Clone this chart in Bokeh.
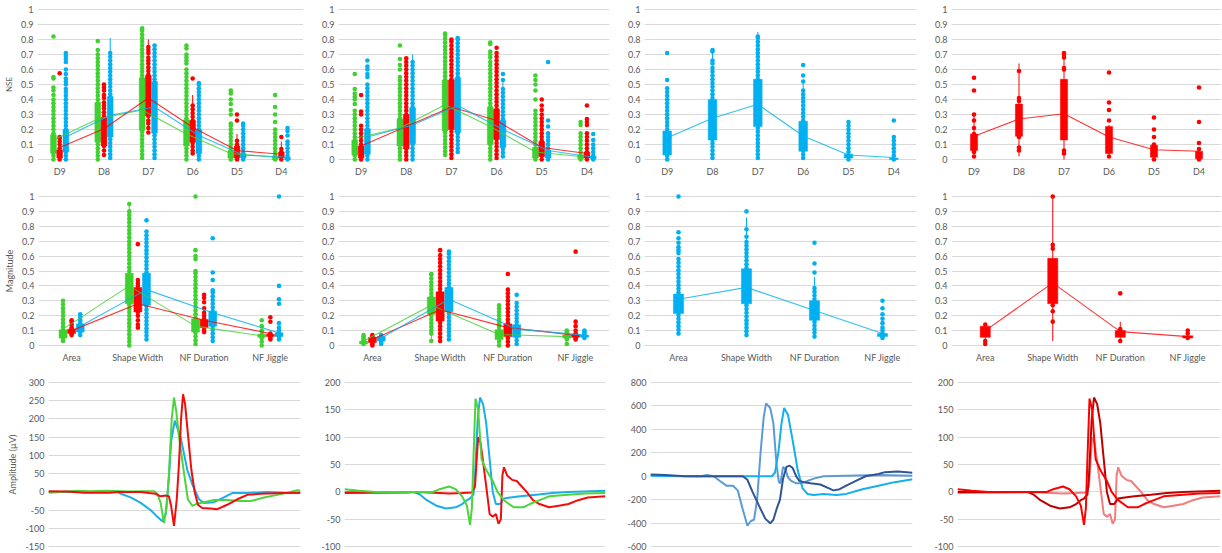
from bokeh.plotting import figure
from bokeh.layouts import column, row
from bokeh.models import Range1d, FixedTicker, NumeralTickFormatter
from bokeh.embed import file_html
from bokeh.resources import INLINE

FONT = "Lato"
TXT = "#595959"
GRID = "#D9D9D9"
GREEN = "#3ED12F"
RED = "#FF0000"
BLUE = "#00B0F0"

NSE_CATS = ["D9", "D8", "D7", "D6", "D5", "D4"]
FEAT_CATS = ["Area", "Shape Width", "NF Duration", "NF Jiggle"]
UNIT_TICKS = [0, 0.1, 0.2, 0.3, 0.4, 0.5, 0.6, 0.7, 0.8, 0.9, 1]
W1_TICKS = [-150, -100, -50, 0, 50, 100, 150, 200, 250, 300]
W2_TICKS = [-100, -50, 0, 50, 100, 150, 200]
W3_TICKS = [-600, -400, -200, 0, 200, 400, 600, 800]

# box stats per category: (q1, q3, whisker_low, whisker_high, mean)
R1A_G_BOX = [(0.04, 0.165, 0, 0.35, 0.13), (0.115, 0.38, 0, 0.73, 0.27), (0.195, 0.545, 0.01, 0.88, 0.33),
             (0.09, 0.265, 0, 0.52, 0.17), (0.01, 0.06, 0, 0.13, 0.04), (0.0, 0.02, 0, 0.05, 0.015)]
R1A_R_BOX = [(0.01, 0.065, 0, 0.14, 0.08), (0.09, 0.28, 0.03, 0.5, 0.205), (0.29, 0.56, 0.18, 0.8, 0.41),
             (0.115, 0.26, 0.04, 0.43, 0.215), (0.01, 0.09, 0, 0.17, 0.06), (0.01, 0.05, 0, 0.12, 0.035)]
R1A_B_BOX = [(0.05, 0.2, 0, 0.47, 0.15), (0.15, 0.42, 0.01, 0.81, 0.295), (0.175, 0.52, 0.01, 0.76, 0.35),
             (0.04, 0.2, 0, 0.51, 0.16), (0.01, 0.04, 0, 0.1, 0.03), (0.0, 0.015, 0, 0.04, 0.015)]

R1B_G_BOX = [(0.03, 0.13, 0, 0.28, 0.14), (0.09, 0.27, 0, 0.54, 0.21), (0.19, 0.53, 0.03, 0.84, 0.365),
             (0.1, 0.35, 0, 0.71, 0.22), (0.01, 0.08, 0, 0.18, 0.05), (0.005, 0.03, 0, 0.07, 0.02)]
R1B_R_BOX = [(0.01, 0.09, 0, 0.2, 0.09), (0.07, 0.3, 0, 0.64, 0.22), (0.2, 0.53, 0.01, 0.8, 0.35),
             (0.135, 0.335, 0.01, 0.66, 0.26), (0.02, 0.12, 0, 0.26, 0.08), (0.01, 0.05, 0, 0.12, 0.04)]
R1B_B_BOX = [(0.035, 0.205, 0, 0.46, 0.15), (0.105, 0.345, 0, 0.7, 0.23), (0.18, 0.545, 0.05, 0.81, 0.36),
             (0.08, 0.26, 0.02, 0.52, 0.2), (0.01, 0.06, 0, 0.12, 0.06), (0.005, 0.02, 0, 0.05, 0.015)]

R1C_B_BOX = [(0.03, 0.19, 0, 0.47, 0.145), (0.13, 0.4, 0.01, 0.73, 0.275), (0.22, 0.535, 0.01, 0.85, 0.368),
             (0.055, 0.255, 0.01, 0.52, 0.157), (0.01, 0.035, 0, 0.1, 0.03), (0.0, 0.01, 0, 0.03, 0.013)]
R1D_R_BOX = [(0.06, 0.17, 0.02, 0.3, 0.155), (0.155, 0.37, 0.02, 0.64, 0.27), (0.13, 0.535, 0.0, 0.72, 0.305),
             (0.04, 0.22, 0.02, 0.23, 0.15), (0.015, 0.095, 0, 0.1, 0.065), (0.005, 0.055, 0, 0.07, 0.055)]

R2A_G_BOX = [(0.05, 0.105, 0.03, 0.18, 0.11), (0.28, 0.485, 0.0, 0.95, 0.4), (0.09, 0.18, 0.01, 0.32, 0.13),
             (0.055, 0.075, 0.0, 0.1, 0.065)]
R2A_R_BOX = [(0.08, 0.11, 0.07, 0.14, 0.1), (0.225, 0.39, 0.12, 0.44, 0.28), (0.12, 0.175, 0.09, 0.26, 0.17),
             (0.06, 0.075, 0.04, 0.09, 0.08)]
R2A_B_BOX = [(0.09, 0.145, 0.07, 0.21, 0.13), (0.27, 0.485, 0.04, 0.76, 0.375), (0.13, 0.23, 0.03, 0.37, 0.22),
             (0.06, 0.085, 0.04, 0.12, 0.085)]

R2B_G_BOX = [(0.01, 0.03, 0.01, 0.05, 0.03), (0.21, 0.325, 0.03, 0.48, 0.27), (0.04, 0.105, 0, 0.2, 0.074),
             (0.05, 0.07, 0.04, 0.09, 0.06)]
R2B_R_BOX = [(0.02, 0.055, 0, 0.07, 0.04), (0.165, 0.36, 0.03, 0.64, 0.24), (0.06, 0.145, 0, 0.27, 0.12),
             (0.055, 0.075, 0.04, 0.1, 0.07)]
R2B_B_BOX = [(0.03, 0.06, 0.01, 0.07, 0.05), (0.227, 0.39, 0.04, 0.63, 0.31), (0.055, 0.14, 0.01, 0.24, 0.11),
             (0.055, 0.07, 0.05, 0.09, 0.07)]

R2C_B_BOX = [(0.215, 0.345, 0.08, 0.55, 0.31), (0.28, 0.515, 0.07, 0.86, 0.39), (0.17, 0.3, 0.06, 0.46, 0.235),
             (0.06, 0.08, 0.05, 0.11, 0.08)]
R2D_R_BOX = [(0.055, 0.13, 0.01, 0.14, 0.1), (0.28, 0.585, 0.03, 1.0, 0.42), (0.055, 0.1, 0.03, 0.16, 0.093),
             (0.05, 0.065, 0.05, 0.07, 0.06)]

# individual data points per category
R1A_G_PTS = [
    [0, .025, .05, .075, .1, .125, .15, .175, .2, .225, .25, .275, .3, .325, .35, .375, .4, .43, .46, .48, .54, .55, .82],
    [0, .025, .05, .075, .1, .125, .15, .175, .2, .225, .25, .275, .3, .325, .35, .375, .4, .425, .45, .475, .5, .525, .55, .575, .6, .625, .65, .675, .7, .73, .79],
    [.01, .035, .06, .085, .11, .135, .16, .185, .21, .235, .26, .285, .31, .335, .36, .385, .41, .435, .46, .485, .51, .535, .56, .585, .61, .635, .66, .685, .71, .735, .76, .785, .81, .835, .86, .875],
    [0, .025, .05, .075, .1, .125, .15, .175, .2, .225, .25, .275, .3, .325, .35, .375, .4, .425, .45, .475, .5, .525, .55, .575, .6, .64, .66, .68, .7, .74, .76],
    [0, .025, .05, .075, .1, .125, .15, .175, .2, .225, .24, .3, .33, .37, .4, .44, .46],
    [0, .025, .05, .075, .1, .125, .15, .175, .2, .25, .3, .35, .43],
]
R1A_R_PTS = [
    [0, .025, .05, .075, .1, .12, .14, .15, .575],
    [.03, .06, .09, .115, .14, .165, .19, .215, .24, .265, .29, .315, .34, .36, .38, .41, .43, .46, .48, .5],
    [.18, .21, .24, .26, .29, .315, .34, .365, .39, .415, .44, .465, .49, .515, .54, .565, .59, .615, .64, .66, .68, .71, .73, .75],
    [.04, .06, .085, .11, .135, .16, .185, .21, .235, .26, .285, .31, .335, .36, .54],
    [0, .025, .05, .075, .1, .125, .26, .3],
    [0, .025, .05, .07, .15],
]
R1A_B_PTS = [
    [0, .025, .05, .075, .1, .125, .15, .175, .2, .225, .25, .275, .3, .325, .35, .375, .4, .425, .45, .47, .5, .52, .54, .57, .6, .65, .67, .69, .71],
    [.01, .035, .06, .085, .11, .135, .16, .185, .21, .235, .26, .285, .31, .335, .36, .385, .41, .435, .46, .485, .51, .535, .56, .585, .61, .635, .66, .685, .71],
    [.01, .035, .06, .085, .11, .135, .16, .185, .21, .235, .26, .285, .31, .335, .36, .385, .41, .435, .46, .485, .51, .535, .56, .585, .61, .635, .66, .685, .71, .735, .76],
    [0, .025, .05, .075, .1, .125, .15, .175, .2, .225, .25, .275, .3, .325, .35, .375, .4, .425, .45, .475, .5, .51],
    [0, .025, .05, .075, .1, .125, .15, .175, .2, .225, .24],
    [0, .025, .05, .075, .1, .12, .16, .19, .21],
]

R1B_G_PTS = [
    [0, .025, .05, .075, .1, .125, .15, .175, .2, .225, .25, .275, .3, .325, .37, .4, .42, .44, .47, .57],
    [0, .025, .05, .075, .1, .125, .15, .175, .2, .225, .25, .275, .3, .325, .35, .375, .4, .425, .45, .475, .5, .525, .55, .6, .63, .67, .76],
    [.03, .055, .08, .105, .13, .155, .18, .205, .23, .255, .28, .305, .33, .355, .38, .405, .43, .455, .48, .505, .53, .555, .58, .605, .63, .655, .68, .705, .73, .755, .78, .805, .83, .84],
    [0, .025, .05, .075, .1, .125, .15, .175, .2, .225, .25, .275, .3, .325, .35, .375, .4, .425, .45, .475, .5, .525, .55, .575, .6, .625, .65, .68, .7, .72, .77, .78],
    [0, .025, .05, .075, .1, .125, .15, .175, .2, .225, .25, .275, .3, .325, .4, .46, .5, .53, .56],
    [0, .025, .05, .075, .1, .125, .15, .175, .23, .25],
]
R1B_R_PTS = [
    [0, .025, .05, .075, .1, .125, .15, .175, .2, .225, .3, .32, .43],
    [0, .025, .05, .075, .1, .125, .15, .175, .2, .225, .25, .275, .3, .325, .35, .375, .4, .425, .45, .475, .5, .525, .55, .575, .6, .625, .65, .675],
    [.01, .035, .06, .085, .11, .135, .16, .185, .21, .235, .26, .285, .31, .335, .36, .385, .41, .435, .46, .485, .51, .535, .56, .585, .61, .635, .66, .685, .71, .735, .76, .785, .8],
    [.01, .035, .06, .085, .11, .135, .16, .185, .21, .235, .26, .285, .31, .335, .36, .385, .41, .435, .46, .485, .51, .535, .56, .585, .61, .635, .66, .685, .71, .745],
    [0, .025, .05, .075, .1, .125, .15, .175, .2, .225, .25, .275, .3, .33, .36, .4],
    [0, .025, .05, .075, .1, .125, .15, .175, .23, .25, .27, .36],
]
R1B_B_PTS = [
    [0, .025, .05, .075, .1, .125, .15, .175, .2, .225, .25, .275, .3, .325, .35, .375, .4, .425, .45, .475, .5, .55, .57, .6, .62, .66],
    [0, .025, .05, .075, .1, .125, .15, .175, .2, .225, .25, .275, .3, .325, .35, .375, .4, .425, .45, .475, .5, .525, .55, .575, .6, .625, .65],
    [.05, .075, .1, .125, .15, .175, .2, .225, .25, .275, .3, .325, .35, .375, .4, .425, .45, .475, .5, .525, .55, .575, .6, .625, .65, .675, .7, .725, .75, .775, .8, .81],
    [.02, .045, .07, .095, .12, .145, .17, .195, .22, .245, .27, .295, .32, .345, .37, .395, .42, .445, .47, .53, .57],
    [0, .025, .05, .075, .1, .125, .15, .175, .22, .26, .65],
    [0, .025, .05, .075, .1, .13, .17],
]
R1C_B_PTS = [
    [0, .025, .05, .075, .1, .125, .15, .175, .2, .225, .25, .275, .3, .325, .35, .375, .4, .425, .45, .475, .53, .71],
    [.01, .035, .06, .085, .11, .135, .16, .185, .21, .235, .26, .285, .31, .335, .36, .385, .41, .435, .46, .485, .51, .535, .56, .585, .61, .64, .66, .72, .73],
    [.01, .035, .06, .085, .11, .135, .16, .185, .21, .235, .26, .285, .31, .335, .36, .385, .41, .435, .46, .485, .51, .535, .56, .585, .61, .635, .66, .685, .71, .735, .76, .785, .81, .82],
    [.01, .035, .06, .085, .11, .135, .16, .185, .21, .235, .26, .285, .31, .335, .36, .385, .41, .435, .46, .52, .56, .63],
    [0, .025, .05, .075, .1, .125, .15, .175, .2, .225, .25],
    [0, .025, .05, .075, .1, .125, .15, .26],
]
R1D_R_PTS = [
    [.02, .05, .07, .1, .14, .17, .21, .26, .3, .46, .545],
    [.06, .08, .15, .39, .41, .59],
    [.04, .06, .6, .61, .68, .7, .71],
    [.02, .26, .33, .38, .58],
    [0, .1, .15, .2, .28],
    [0, .07, .11, .25, .48],
]

R2A_G_PTS = [
    [.03, .05, .075, .1, .125, .15, .175, .2, .225, .25, .275, .3],
    [0, .025, .05, .075, .1, .125, .15, .175, .2, .225, .25, .275, .3, .325, .35, .375, .4, .425, .45, .475, .5, .525, .55, .575, .6, .625, .65, .675, .7, .725, .75, .775, .8, .825, .85, .875, .9, .95],
    [.01, .035, .06, .085, .11, .135, .16, .185, .21, .235, .26, .285, .31, .335, .36, .385, .41, .435, .46, .485, .5, .58, .6, .64, 1.0],
    [0, .025, .05, .075, .1, .13, .17],
]
R2A_R_PTS = [
    [.07, .08, .09, .1, .11, .12, .14, .16, .17],
    [.12, .14, .17, .2, .225, .25, .275, .3, .325, .35, .375, .4, .42, .44, .68],
    [.09, .1, .12, .14, .16, .18, .2, .22, .25, .29, .32, .34],
    [.04, .05, .06, .07, .08, .16, .19],
]
R2A_B_PTS = [
    [.07, .09, .11, .13, .15, .17, .19, .21],
    [.04, .065, .09, .115, .14, .165, .19, .215, .24, .265, .29, .315, .34, .365, .39, .415, .44, .465, .49, .515, .54, .565, .59, .615, .64, .665, .69, .715, .74, .765, .84],
    [.03, .055, .08, .105, .13, .155, .18, .205, .23, .255, .28, .305, .33, .355, .37, .44, .49, .72],
    [.04, .06, .08, .1, .12, .15, .28, .31, .4, 1.0],
]
R2B_G_PTS = [
    [.01, .02, .03, .04, .05, .06, .07],
    [.03, .08, .1, .125, .15, .175, .2, .225, .25, .275, .3, .325, .35, .375, .4, .425, .45, .475, .48],
    [0, .025, .05, .075, .1, .125, .15, .175, .2, .225, .25, .27],
    [.01, .04, .05, .06, .07, .08, .09, .1],
]
R2B_R_PTS = [
    [0, .01, .02, .03, .04, .05, .06, .07],
    [.03, .055, .08, .105, .13, .155, .18, .205, .23, .255, .28, .305, .33, .355, .38, .405, .43, .455, .48, .505, .53, .555, .58, .605, .64],
    [0, .025, .05, .075, .1, .125, .15, .175, .2, .225, .25, .275, .3, .325, .35, .375, .48],
    [.04, .05, .06, .07, .08, .1, .13, .16, .63],
]
R2B_B_PTS = [
    [.01, .02, .03, .04, .05, .06, .07],
    [.04, .065, .09, .115, .14, .165, .19, .215, .24, .265, .29, .315, .34, .365, .39, .415, .44, .465, .49, .515, .54, .565, .59, .615, .63],
    [.01, .035, .06, .085, .11, .135, .16, .185, .21, .235, .26, .285, .34],
    [.05, .06, .07, .08, .09, .1],
]
R2C_B_PTS = [
    [.08, .105, .13, .155, .18, .205, .23, .255, .28, .305, .33, .355, .38, .405, .43, .455, .48, .505, .53, .555, .58, .62, .64, .66, .69, .72, .76, 1.0],
    [.07, .095, .12, .145, .17, .195, .22, .245, .27, .295, .32, .345, .37, .395, .42, .445, .47, .495, .52, .545, .57, .595, .62, .645, .67, .695, .73, .78, .9],
    [.06, .085, .11, .135, .16, .185, .21, .235, .26, .285, .31, .335, .36, .385, .49, .55, .69],
    [.05, .06, .07, .08, .1, .12, .15, .18, .21, .25, .3],
]
R2D_R_PTS = [[.01, .03, .14], [.16, .23, .27, .65, .675, 1.0], [.03, .11, .35], [.05, .08, .1]]

# waveforms (x = position in % of the time window, y = amplitude in uV)
W1_BLUE_X = [0, 27.3, 28.7, 32.6, 36.6, 40.6, 43.2, 45.2, 46.5, 47.8, 48.7, 50.1, 52.4, 55.1, 57.1, 59.7, 61.7, 65.7, 69.6, 72.9, 78.9, 86.8, 93.4, 100]
W1_BLUE_Y = [0, 0, -5, -15, -30, -50, -68, -80, -60, 40, 140, 195, 150, 60, 20, -20, -30, -28, -15, -3, -3, 0, -2, -3]
W1_GREEN_X = [0, 4.9, 11.5, 16.8, 23.4, 31.3, 39.2, 41.9, 43.2, 44.5, 45.8, 46.9, 47.8, 48.9, 49.8, 50.7, 51.8, 53.8, 55.3, 57.1, 59.0, 61.7, 65.7, 70.9, 76.2, 80.2, 85.5, 90.8, 96.0, 98.7, 100]
W1_GREEN_Y = [-2, 0, 3, 2, 3, 1, 2, 2, -5, -30, -85, -40, 50, 200, 258, 220, 150, 50, -20, -38, -32, -28, -22, -22, -25, -25, -15, -8, 0, 5, 3]
W1_RED_X = [0, 7.5, 14.1, 24.7, 27.3, 36.6, 39.9, 42.5, 44.5, 46.5, 47.8, 48.7, 49.8, 50.9, 51.8, 52.6, 53.4, 54.2, 55.3, 56.7, 58.0, 59.3, 61.0, 64.3, 67.0, 70.9, 74.9, 78.9, 84.1, 93.4, 100]
W1_RED_Y = [2, 1, -2, -2, 0, 0, -3, -5, -12, -10, -12, -40, -93, -20, 80, 200, 267, 240, 160, 60, 0, -35, -44, -45, -47, -35, -20, -8, -5, -3, -2]

W2_BLUE_X = [0, 26.5, 29.0, 31.5, 35.2, 38.9, 42.6, 45.1, 46.9, 48.1, 49.4, 50.0, 51.0, 51.9, 53.1, 54.3, 55.6, 56.8, 58.0, 59.6, 61.1, 63.6, 67.3, 73.5, 79.6, 85.8, 100]
W2_BLUE_Y = [0, 0, -5, -15, -25, -30, -28, -22, -15, -12, -5, 30, 130, 172, 160, 125, 60, 0, -22, -22, -12, -10, -8, -5, -2, 0, 2]
W2_GREEN_X = [0, 5.6, 11.7, 34.0, 36.4, 40.1, 42.6, 45.1, 46.9, 48.1, 48.8, 49.4, 50.2, 51.2, 52.5, 54.3, 56.8, 58.6, 61.1, 64.8, 68.5, 71.0, 74.7, 78.4, 85.8, 92.0, 100]
W2_GREEN_Y = [5, 2, 0, 0, 5, 10, 5, -8, -25, -60, -30, 60, 170, 150, 60, 40, 20, 0, -15, -28, -28, -22, -15, -8, -5, -3, -2]
W2_RED_X = [0, 24.1, 27.8, 36.4, 40.1, 45.1, 48.8, 50.0, 51.2, 52.1, 53.1, 54.3, 55.6, 56.8, 58.0, 59.0, 59.9, 60.5, 61.1, 62.3, 64.2, 66.0, 67.9, 69.8, 72.2, 74.7, 78.4, 82.1, 85.8, 89.5, 93.2, 100]
W2_RED_Y = [-2, -1, 0, -2, -3, -2, -1, 10, 100, 90, 55, 10, -40, -45, -40, -58, -50, 30, 45, 30, 22, 20, 10, 0, -15, -22, -28, -25, -22, -15, -10, -8]

W3_MID_X = [0, 5.6, 19.1, 21.6, 24.1, 26.5, 29.0, 31.5, 33.3, 35.2, 37.0, 38.3, 39.5, 40.7, 42.0, 43.2, 44.1, 45.7, 46.9, 48.1, 49.0, 49.6, 50.6, 51.5, 52.5, 53.7, 55.6, 57.4, 59.9, 62.3, 66.0, 74.7, 87.0, 100]
W3_MID_Y = [10, 5, 0, 10, 0, -40, -80, -80, -120, -280, -420, -380, -370, -200, 200, 500, 620, 580, 450, 100, -50, -60, 80, 60, -10, -40, -60, -60, -40, -20, 0, 5, 10, 5]
W3_BRIGHT_X = [0, 13.0, 46.3, 47.5, 48.8, 50.0, 51.0, 52.5, 54.3, 56.2, 58.0, 59.9, 62.3, 66.0, 71.0, 74.7, 80.9, 87.0, 93.2, 100]
W3_BRIGHT_Y = [5, 0, 0, 30, 200, 450, 580, 520, 300, 50, -100, -150, -160, -150, -160, -150, -110, -80, -50, -25]
W3_DARK_X = [0, 5.6, 13.0, 35.2, 37.0, 38.9, 41.4, 43.8, 45.7, 46.9, 48.1, 49.4, 50.6, 51.9, 53.1, 54.3, 55.6, 56.8, 58.6, 61.1, 64.8, 67.3, 69.8, 72.2, 74.7, 78.4, 82.1, 87.0, 89.5, 94.4, 100]
W3_DARK_Y = [15, 10, 0, 0, -30, -130, -250, -360, -400, -370, -280, -200, -20, 80, 90, 70, 0, -40, -50, -60, -70, -95, -120, -110, -80, -40, 0, 20, 35, 40, 30]

COL_W = [318, 306, 307, 291]
LR_BOX = [(37, 15), (16, 15), (16, 15), (16, 1)]
LR_WAVE = [(48, 18), (17, 19), (18, 19), (16, 2)]


def base_fig(w, h, lr, bt, bb, xr, yr, yticks, yfmt, ylabel=None, xlabels=None, ylabel_size="9px"):
    p = figure(width=w, height=h, output_backend="svg", toolbar_location=None,
               x_range=Range1d(*xr), y_range=Range1d(*yr),
               min_border_left=lr[0], min_border_right=lr[1],
               min_border_top=bt, min_border_bottom=bb,
               x_axis_location="below" if xlabels else None)
    p.outline_line_color = None
    p.xgrid.visible = False
    yt = FixedTicker(ticks=yticks)
    yax = p.yaxis[0]
    yax.ticker = yt
    p.ygrid.ticker = yt
    p.ygrid.grid_line_color = GRID
    p.ygrid.grid_line_width = 1
    yax.formatter = NumeralTickFormatter(format=yfmt)
    yax.axis_line_color = None
    yax.major_tick_line_color = None
    yax.minor_tick_line_color = None
    yax.major_tick_out = 0
    yax.major_label_standoff = 4
    yax.major_label_text_font = FONT
    yax.major_label_text_font_size = "9px"
    yax.major_label_text_color = TXT
    if ylabel:
        yax.axis_label = ylabel
        yax.axis_label_text_font = FONT
        yax.axis_label_text_font_size = ylabel_size
        yax.axis_label_text_font_style = "normal"
        yax.axis_label_text_color = TXT
        yax.axis_label_standoff = 4
    if xlabels:
        xax = p.xaxis[0]
        xax.ticker = FixedTicker(ticks=list(range(1, len(xlabels) + 1)))
        xax.major_label_overrides = {i + 1: lab for i, lab in enumerate(xlabels)}
        xax.axis_line_color = None
        xax.major_tick_line_color = None
        xax.minor_tick_line_color = None
        xax.major_tick_out = 0
        xax.major_label_standoff = 3
        xax.major_label_text_font = FONT
        xax.major_label_text_font_size = "9px"
        xax.major_label_text_color = TXT
    return p


def box_panel(ci, h, bt, bb, cats, series, off, bw, ylabel=None, ylabel_size="9px"):
    p = base_fig(COL_W[ci], h, LR_BOX[ci], bt, bb, (0.5, len(cats) + 0.5), (-0.02, 1.02),
                 UNIT_TICKS, "0.[0]", ylabel, cats, ylabel_size)
    n = len(series)
    means = []
    for si, (boxes, pts, color) in enumerate(series):
        d = (si - (n - 1) / 2) * off
        xs = [i + 1 + d for i in range(len(boxes))]
        q1 = [b[0] for b in boxes]
        q3 = [b[1] for b in boxes]
        lo = [b[2] for b in boxes]
        hi = [b[3] for b in boxes]
        mn = [b[4] for b in boxes]
        p.segment(x0=xs, y0=lo, x1=xs, y1=hi, line_color=color, line_width=1)
        p.vbar(x=xs, width=bw, bottom=q1, top=q3, fill_color=color, line_color=color, line_width=0.5)
        px, py = [], []
        for x, vals in zip(xs, pts):
            px += [x] * len(vals)
            py += list(vals)
        p.scatter(px, py, size=4.6, fill_color=color, line_color=color, line_width=0)
        means.append((xs, mn, color))
    for xs, mn, color in means:
        p.line(xs, mn, line_color=color, line_width=1.1, line_alpha=0.8)
    return p


def wave_panel(ci, h, bt, bb, yr, yticks, lines, ylabel=None):
    pad = (yr[1] - yr[0]) * 0.004
    p = base_fig(COL_W[ci], h, LR_WAVE[ci], bt, bb, (0, 100), (yr[0] - pad, yr[1] + pad),
                 yticks, "0", ylabel)
    for xs, ys, c in lines:
        p.line(xs, ys, line_color=c, line_width=2)
    return p


H1, BT1, BB1 = 181, 6, 19
H2, BT2, BB2 = 185, 12, 18
H3, BT3, BB3 = 187, 15, 6

r1 = row(
    box_panel(0, H1, BT1, BB1, NSE_CATS, [(R1A_G_BOX, R1A_G_PTS, GREEN), (R1A_R_BOX, R1A_R_PTS, RED), (R1A_B_BOX, R1A_B_PTS, BLUE)], 0.14, 0.13, "NSE", "8px"),
    box_panel(1, H1, BT1, BB1, NSE_CATS, [(R1B_G_BOX, R1B_G_PTS, GREEN), (R1B_R_BOX, R1B_R_PTS, RED), (R1B_B_BOX, R1B_B_PTS, BLUE)], 0.14, 0.13),
    box_panel(2, H1, BT1, BB1, NSE_CATS, [(R1C_B_BOX, R1C_B_PTS, BLUE)], 0.14, 0.19),
    box_panel(3, H1, BT1, BB1, NSE_CATS, [(R1D_R_BOX, R1D_R_PTS, RED)], 0.14, 0.16),
)
r2 = row(
    box_panel(0, H2, BT2, BB2, FEAT_CATS, [(R2A_G_BOX, R2A_G_PTS, GREEN), (R2A_R_BOX, R2A_R_PTS, RED), (R2A_B_BOX, R2A_B_PTS, BLUE)], 0.13, 0.12, "Magnitude"),
    box_panel(1, H2, BT2, BB2, FEAT_CATS, [(R2B_G_BOX, R2B_G_PTS, GREEN), (R2B_R_BOX, R2B_R_PTS, RED), (R2B_B_BOX, R2B_B_PTS, BLUE)], 0.13, 0.12),
    box_panel(2, H2, BT2, BB2, FEAT_CATS, [(R2C_B_BOX, R2C_B_PTS, BLUE)], 0.13, 0.15),
    box_panel(3, H2, BT2, BB2, FEAT_CATS, [(R2D_R_BOX, R2D_R_PTS, RED)], 0.13, 0.15),
)
r3 = row(
    wave_panel(0, H3, BT3, BB3, (-150, 300), W1_TICKS,
               [(W1_BLUE_X, W1_BLUE_Y, "#1AAEEB"), (W1_GREEN_X, W1_GREEN_Y, "#4CD43C"), (W1_RED_X, W1_RED_Y, "#F20D0D")],
               "Amplitude (µV)"),
    wave_panel(1, H3, BT3, BB3, (-100, 200), W2_TICKS,
               [(W2_BLUE_X, W2_BLUE_Y, "#1AAEEB"), (W2_RED_X, W2_RED_Y, "#F20D0D"), (W2_GREEN_X, W2_GREEN_Y, "#4CD43C")]),
    wave_panel(2, H3, BT3, BB3, (-600, 800), W3_TICKS,
               [(W3_MID_X, W3_MID_Y, "#5B9BD5"), (W3_BRIGHT_X, W3_BRIGHT_Y, "#14B0EE"), (W3_DARK_X, W3_DARK_Y, "#2F5597")]),
    wave_panel(3, H3, BT3, BB3, (-100, 200), W2_TICKS,
               [(W2_RED_X, W2_RED_Y, "#F47C7C"), (W2_BLUE_X, W2_BLUE_Y, "#C00000"), (W2_GREEN_X, W2_GREEN_Y, "#FF0000")]),
)

layout = column(r1, r2, r3)
open("out.html", "w").write(file_html(layout, INLINE))
